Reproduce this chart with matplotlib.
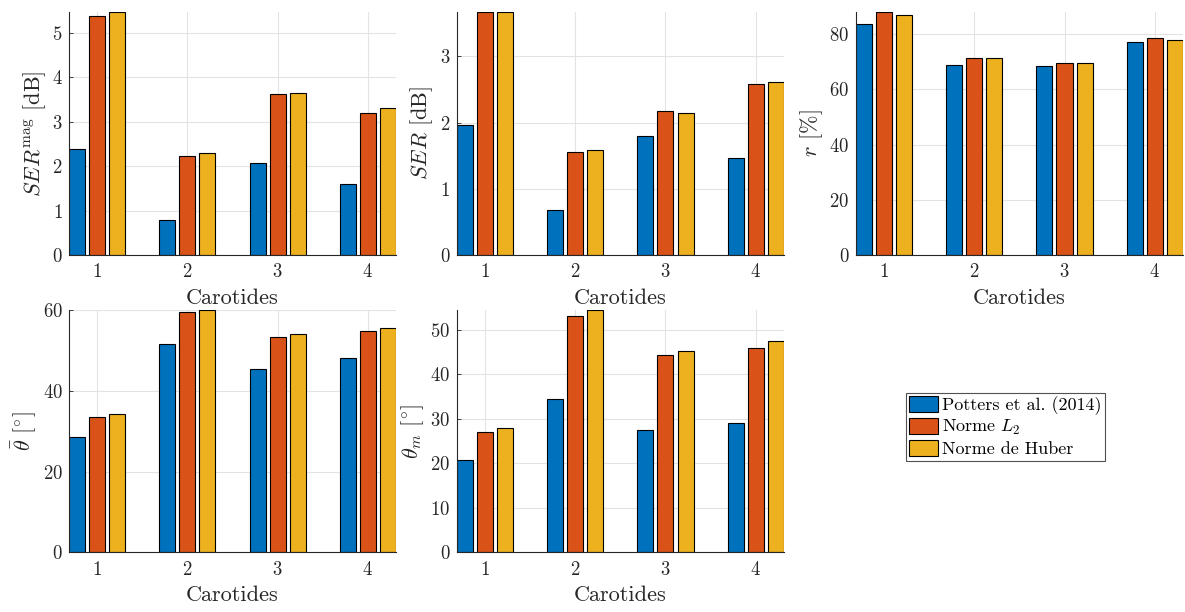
import numpy as np
import matplotlib
matplotlib.use("Agg")
import matplotlib.pyplot as plt
from matplotlib.ticker import MultipleLocator

plt.rcParams['font.family'] = ['cmr10', 'DejaVu Serif']
plt.rcParams['mathtext.fontset'] = 'cm'
plt.rcParams['axes.formatter.use_mathtext'] = True
plt.rcParams['axes.unicode_minus'] = False

# data
carotides = [1, 2, 3, 4]
methods = ['Potters et al. (2014)', r'Norme $L_2$', 'Norme de Huber']

ser_mag_potters = [2.39, 0.79, 2.08, 1.59]
ser_mag_l2 = [5.38, 2.23, 3.62, 3.20]
ser_mag_huber = [5.47, 2.30, 3.64, 3.30]

ser_potters = [1.97, 0.68, 1.80, 1.46]
ser_l2 = [3.67, 1.56, 2.18, 2.58]
ser_huber = [3.67, 1.59, 2.15, 2.62]

r_potters = [83.6, 68.8, 68.3, 77.0]
r_l2 = [88.0, 71.4, 69.7, 78.5]
r_huber = [87.0, 71.5, 69.5, 77.9]

theta_bar_potters = [28.6, 51.7, 45.4, 48.0]
theta_bar_l2 = [33.4, 59.5, 53.3, 54.7]
theta_bar_huber = [34.2, 60.0, 54.0, 55.5]

theta_m_potters = [20.7, 34.4, 27.5, 29.1]
theta_m_l2 = [27.0, 53.1, 44.3, 45.9]
theta_m_huber = [28.0, 54.4, 45.3, 47.4]

colors = ['#0072BD', '#D95319', '#EDB120']

panels = [
    ([ser_mag_potters, ser_mag_l2, ser_mag_huber], r'$SER^{\mathrm{mag}}$ [dB]', 1),
    ([ser_potters, ser_l2, ser_huber], r'$SER$ [dB]', 1),
    ([r_potters, r_l2, r_huber], r'$r$ [%]', 20),
    ([theta_bar_potters, theta_bar_l2, theta_bar_huber], r'$\bar{\theta}$ [$^{\circ}$]', 20),
    ([theta_m_potters, theta_m_l2, theta_m_huber], r'$\theta_m$ [$^{\circ}$]', 10),
]

W, H = 1185, 612
# axes boxes in pixels: left, top, right, bottom
boxes = [
    (69, 12, 396, 255),
    (456.5, 12, 784, 255),
    (855.7, 12, 1183, 255),
    (69, 310, 396, 552.3),
    (456.5, 310, 784, 552.3),
]

fig = plt.figure(figsize=(W / 100, H / 100), dpi=100)

group_w = 2 / 3
step = group_w / 3
bar_w = step * 0.8
x = np.array(carotides, dtype=float)

handles = None
for (series, ylabel, tstep), (l, t, r, b) in zip(panels, boxes):
    ax = fig.add_axes([l / W, 1 - b / H, (r - l) / W, (b - t) / H])
    hs = []
    for i, vals in enumerate(series):
        h = ax.bar(x + (i - 1) * step, vals, width=bar_w, color=colors[i],
                   edgecolor='black', linewidth=0.8, zorder=3, label=methods[i])
        hs.append(h)
    handles = hs
    ymax = max(max(s) for s in series)
    ax.set_ylim(0, ymax)
    ax.set_xlim(x[0] - step - bar_w / 2, x[-1] + step + bar_w / 2)
    ax.set_xticks(carotides)
    ax.yaxis.set_major_locator(MultipleLocator(tstep))
    ax.grid(True, color='#e3e3e3', linewidth=0.8, zorder=0)
    ax.set_axisbelow(True)
    for s in ['top', 'right']:
        ax.spines[s].set_visible(False)
    for s in ['left', 'bottom']:
        ax.spines[s].set_color('#262626')
        ax.spines[s].set_linewidth(0.8)
        ax.spines[s].set_zorder(4)
    ax.tick_params(direction='in', length=3, width=0.6, colors='#262626',
                   labelsize=13.5, pad=4.5)
    ax.tick_params(axis='x', pad=6)
    ax.set_xlabel('Carotides', fontsize=16, color='#262626', labelpad=5)
    ax.set_ylabel(ylabel, fontsize=16, color='#262626', labelpad=3)

leg = fig.legend(handles, methods, loc='upper left',
                 bbox_to_anchor=(905.7 / W, 1 - 392.7 / H),
                 borderaxespad=0, fontsize=13, frameon=True, fancybox=False,
                 handlelength=1.6, handleheight=1.0, handletextpad=0.2,
                 labelspacing=0.15, borderpad=0.2)
leg.get_frame().set_edgecolor('#262626')
leg.get_frame().set_linewidth(0.8)

fig.savefig('out.png', dpi=100)
